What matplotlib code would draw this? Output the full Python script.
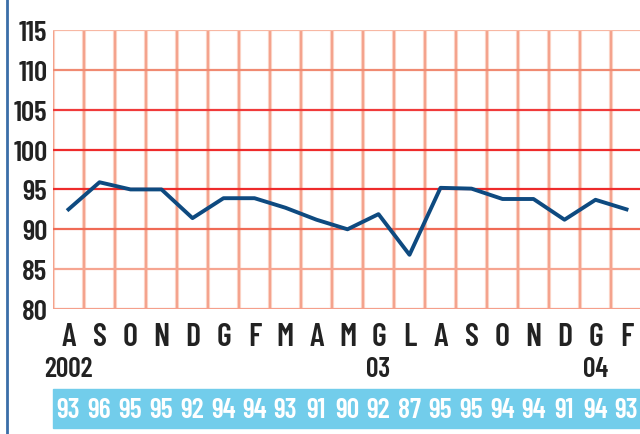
import matplotlib.pyplot as plt
from matplotlib.patches import Rectangle
from matplotlib.lines import Line2D

months = ["A", "S", "O", "N", "D", "G", "F", "M", "A", "M", "G", "L",
          "A", "S", "O", "N", "D", "G", "F"]
years = {0: "2002", 10: "03", 17: "04"}
values = [92.5, 95.9, 95.0, 95.0, 91.4, 93.9, 93.9, 92.7, 91.2, 90.0,
          91.9, 86.8, 95.2, 95.1, 93.8, 93.8, 91.2, 93.7, 92.5]
labels = ["93", "96", "95", "95", "92", "94", "94", "93", "91", "90",
          "92", "87", "95", "95", "94", "94", "91", "94", "93"]
yticks = [80, 85, 90, 95, 100, 105, 110, 115]

font = dict(family=["Barlow Condensed", "DejaVu Sans"], weight=600)

fig = plt.figure(figsize=(6.4, 4.35), dpi=100)
W, H = 640, 435
ax = fig.add_axes([53 / W, 1 - 310 / H, 1 - 53 / W, (310 - 31) / H])
ax.set_xlim(-0.5, -0.5 + (W - 53) / 31)
ax.set_ylim(80, 115)
for s in ax.spines.values():
    s.set_visible(False)

# griglia
hcol = {80: "#f5a08c", 85: "#f6a591", 90: "#f06a55", 95: "#ee2b2b",
        100: "#ee2b2b", 105: "#f03a3a", 110: "#f08a72", 115: "#f7b8a4"}
for y in yticks:
    ax.axhline(y, color=hcol[y], lw=1.6, zorder=1)
for k in range(21):
    ax.axvline(k - 0.5, color="#fbd2c4", lw=3.0, zorder=0.5)
    ax.axvline(k - 0.5, color="#f39a82", lw=1.2, zorder=0.6)

ax.plot(range(len(values)), values, color="#0e4a80", lw=2.8, zorder=3)

ax.set_yticks(yticks)
ax.set_yticklabels([str(y) for y in yticks], fontsize=21, color="#222222", **font)
ax.set_xticks(range(len(months)))
ax.set_xticklabels(months, fontsize=23, color="#222222", **font)
ax.tick_params(length=0, pad=4)
ax.tick_params(axis="x", pad=9)

for i, yr in years.items():
    ax.text(i, -0.215, yr, transform=ax.get_xaxis_transform(), ha="center",
            va="center", fontsize=20, color="#222222", **font)

# banda valori
fig.patches.append(Rectangle((53 / W, 1 - 429 / H), 1, 39 / H,
                             transform=fig.transFigure, color="#72cdeb",
                             zorder=-1))
for i, lab in enumerate(labels):
    ax.text(i, -0.362, lab, transform=ax.get_xaxis_transform(), ha="center",
            va="center", fontsize=20, color="white", **font)

fig.lines.append(Line2D([7 / W, 7 / W], [0, 1], transform=fig.transFigure,
                        color="#3a6ea8", lw=2))

fig.savefig("out.png", dpi=100)
